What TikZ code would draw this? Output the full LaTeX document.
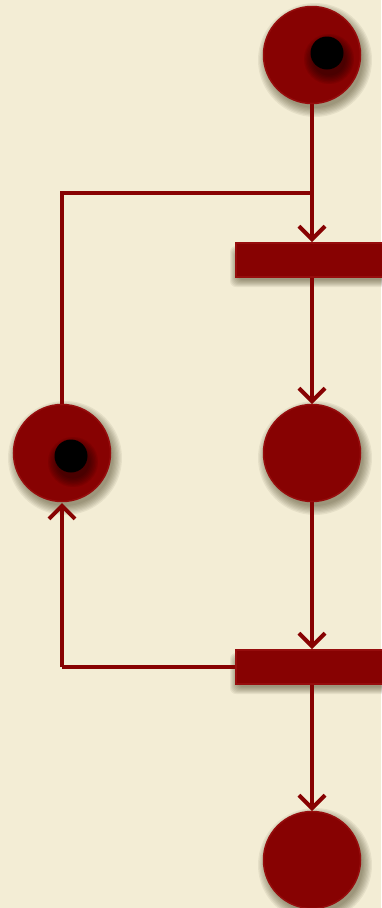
\documentclass[tikz,border=0pt]{standalone}
\usetikzlibrary{arrows.meta}
\definecolor{parchment}{HTML}{F3EDD5}
\definecolor{wine}{HTML}{870202}
\definecolor{wineedge}{HTML}{960D0D}
\definecolor{umber}{HTML}{3A3010}
\tikzset{
  place/.style={circle, draw=wineedge, line width=1.5pt, fill=wine, minimum size=97pt, inner sep=0pt},
  token/.style={circle, fill=black, minimum size=33pt, inner sep=0pt},
  transition/.style={rectangle, draw=wineedge, line width=1.5pt, fill=wine, minimum width=152pt, minimum height=34pt, inner sep=0pt, anchor=west},
  haze/.style={fill=umber, opacity=0.07},
  arc/.style={line width=4pt, draw=wine, -{Straight Barb[length=13pt, width=26pt, line width=4pt]}},
  link/.style={line width=4pt, draw=wine},
}
\begin{document}
\begin{tikzpicture}[x=1pt, y=-1pt]
  \fill[parchment] (0,0) rectangle (381,908);
  \useasboundingbox (0,0) rectangle (381,908);

  % soft shadows under places and transitions
  \foreach \px/\py in {312/55, 62/453, 312/453, 312/860}
    \foreach \k in {0,...,7}
      \fill[haze] (\px+3,\py+5) circle ({57-\k*1.3});
  \foreach \ty in {260, 667}
    \foreach \k in {0,...,7}
      \fill[haze, rounded corners=6pt] (230+\k,\ty-14+\k) rectangle (395,\ty+27-\k);

  % connectors first, nodes on top
  \coordinate (join) at (312,193);
  \coordinate (back) at (62,667);
  \draw[link] (62,453) -- (62,193) -- (join);
  \draw[arc] (312,55) -- (312,242);
  \draw[arc] (312,260) -- (312,404);
  \draw[arc] (312,453) -- (312,649);
  \draw[link] (312,667) -- (back);
  \draw[arc] (back) -- (62,503);
  \draw[arc] (312,667) -- (312,811);

  \node[place] (start) at (312,55) {};
  \node[place] (loop) at (62,453) {};
  \node[place] (mid) at (312,453) {};
  \node[place] (finish) at (312,860) {};
  \node[transition] (fire1) at (235,260) {};
  \node[transition] (fire2) at (235,667) {};

  % token shadows
  \foreach \px/\py in {327/53, 71/456}
    \foreach \k in {0,...,6}
      \fill[black, opacity=0.08] (\px+2,\py+6) circle ({25-\k*1.4});
  \node[token] (dot1) at (327,53) {};
  \node[token] (dot2) at (71,456) {};
\end{tikzpicture}
\end{document}
